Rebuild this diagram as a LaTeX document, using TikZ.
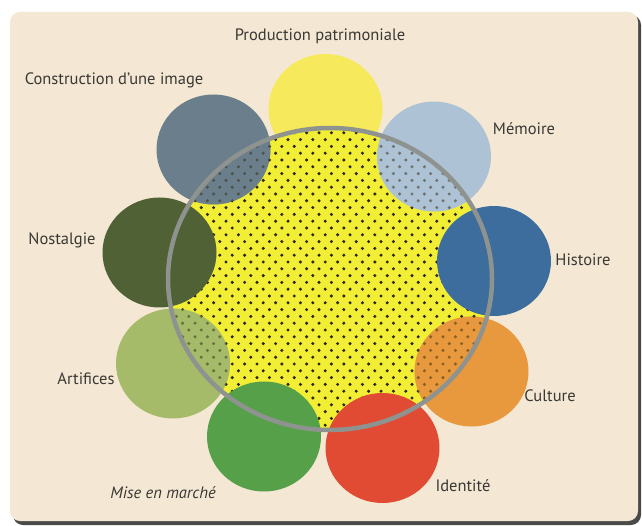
\documentclass[tikz,border=0pt]{standalone}
\usepackage{fontspec}
\setmainfont{PT Sans}
\definecolor{bg}{HTML}{F4E8D4}
\definecolor{shadowc}{HTML}{4A4A48}
\definecolor{yel}{HTML}{F6EA5C}
\definecolor{yelin}{HTML}{F2EE36}
\definecolor{slate}{HTML}{6A7F8B}
\definecolor{memo}{HTML}{AEC2D5}
\definecolor{nost}{HTML}{4F6135}
\definecolor{hist}{HTML}{3D6D9D}
\definecolor{arti}{HTML}{A5BB69}
\definecolor{cult}{HTML}{E8983D}
\definecolor{mise}{HTML}{55A049}
\definecolor{iden}{HTML}{E14B33}
\definecolor{ringc}{HTML}{8E938F}
\definecolor{dotc}{HTML}{2C2709}
\definecolor{txt}{HTML}{3A3835}
\tikzset{
  lbl/.style={text=txt, font=\fontsize{16.5}{18}\selectfont, inner sep=0pt},
  blob/.style={x radius=57pt, y radius=55pt}
}
\begin{document}
\begin{tikzpicture}[x=1pt,y=-1pt]
\useasboundingbox (0,0) rectangle (642,526);
\fill[white] (0,0) rectangle (642,526);
\fill[shadowc, rounded corners=10pt] (13,15) rectangle (641,525);
\fill[bg, rounded corners=10pt] (10,12) rectangle (638,521);

% circle centres
\coordinate (cProd) at (325.5,109);
\coordinate (cCons) at (213.5,149.5);
\coordinate (cMemo) at (434,156.5);
\coordinate (cNost) at (159.5,252.5);
\coordinate (cHist) at (494,261);
\coordinate (cArti) at (173,363.5);
\coordinate (cCult) at (471.5,371.5);
\coordinate (cMise) at (264,436.5);
\coordinate (cIden) at (382.5,448);
\coordinate (cRing) at (330,279);

% top yellow circle
\fill[yel] (cProd) ellipse [blob];
% yellow interior of the ring
\fill[yelin] (cRing) ellipse [x radius=162pt, y radius=151pt];
% circles seen through the dots
\fill[slate] (cCons) ellipse [blob];
\fill[memo] (cMemo) ellipse [blob];
\fill[arti] (cArti) ellipse [blob];
\fill[cult] (cCult) ellipse [blob];
% dot screen inside the ring
\begin{scope}
  \clip (cRing) ellipse [x radius=162pt, y radius=151pt];
  \foreach \j in {0,...,46} {
    \foreach \i in {0,...,27} {
      \fill[dotc] ({164+12.4*\i+6.2*mod(\j,2)}, {126+6.8*\j}) circle [radius=1.7pt];
    }
  }
  % soften the dots on the see-through circles
  \fill[slate, opacity=0.5] (cCons) ellipse [blob];
  \fill[memo, opacity=0.5] (cMemo) ellipse [blob];
  \fill[arti, opacity=0.5] (cArti) ellipse [blob];
  \fill[cult, opacity=0.5] (cCult) ellipse [blob];
\end{scope}
% opaque circles
\fill[nost] (cNost) ellipse [blob];
\fill[hist] (cHist) ellipse [blob];
\fill[mise] (cMise) ellipse [blob];
\fill[iden] (cIden) ellipse [blob];
% grey ring
\draw[ringc, line width=4.5pt] (cRing) ellipse [x radius=162pt, y radius=151pt];

% labels
\node[lbl] (lProd) at (320,36) {Production patrimoniale};
\node[lbl] (lCons) at (114,80) {Construction d’une image};
\node[lbl] (lMemo) at (524,129) {Mémoire};
\node[lbl] (lNost) at (62,240) {Nostalgie};
\node[lbl] (lHist) at (583,260) {Histoire};
\node[lbl] (lArti) at (86,379) {Artifices};
\node[lbl] (lCult) at (550,396) {Culture};
\node[lbl, font=\fontsize{16.5}{18}\selectfont\itshape] (lMise) at (163,493) {Mise en marché};
\node[lbl] (lIden) at (463,486) {Identité};
\end{tikzpicture}
\end{document}
